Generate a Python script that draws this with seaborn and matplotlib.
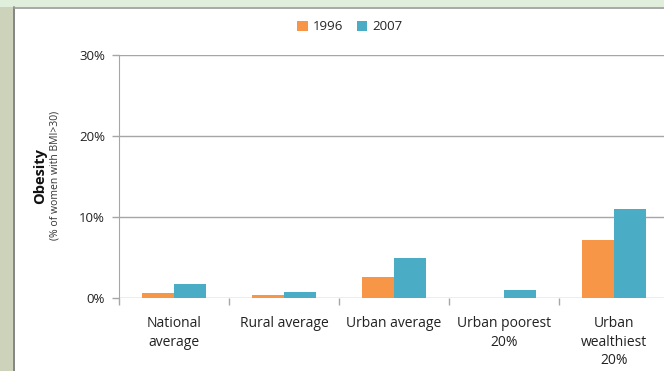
import matplotlib
matplotlib.use("Agg")
import matplotlib.pyplot as plt
from matplotlib.patches import Rectangle
from matplotlib.ticker import FixedLocator, PercentFormatter
import pandas as pd
import seaborn as sns

categories = ["National\naverage", "Rural average", "Urban average",
              "Urban poorest\n20%", "Urban\nwealthiest\n20%"]
years = ["1996", "2007"]
obesity_1996 = [0.6, 0.4, 2.6, 0.0, 7.2]
obesity_2007 = [1.7, 0.8, 4.9, 1.0, 11.0]
colors = ["#f79646", "#4bacc6"]

df = pd.DataFrame({
    "category": categories * 2,
    "year": [years[0]] * len(categories) + [years[1]] * len(categories),
    "value": obesity_1996 + obesity_2007,
})

sns.set_style("white")
plt.rcParams["font.family"] = ["Open Sans", "DejaVu Sans"]

fig = plt.figure(figsize=(6.64, 3.71), dpi=100)

# slide frame: grey-green panel on the left, light green strip on top
fig.patches.append(Rectangle((0, 0), 13 / 664, 1, transform=fig.transFigure,
                             facecolor="#cdd3bb", edgecolor="none", zorder=0))
fig.add_artist(plt.Line2D([13.5 / 664] * 2, [0, 1 - 7 / 371], transform=fig.transFigure,
                          color="#707070", lw=1.2))
fig.patches.append(Rectangle((0, 1 - 7 / 371), 1, 7 / 371, transform=fig.transFigure,
                             facecolor="#e0efdc", edgecolor="none", zorder=0))
fig.add_artist(plt.Line2D([13.5 / 664, 1], [1 - 7.5 / 371] * 2, transform=fig.transFigure,
                          color="#9a9a9a", lw=1.2))

ax = fig.add_axes([119 / 664, 1 - 298 / 371, 550 / 664, 243 / 371])
sns.barplot(data=df, x="category", y="value", hue="year", palette=colors,
            width=0.58, saturation=1, linewidth=0, ax=ax, legend=True)

ax.set_ylim(0, 30)
ax.set_xlim(-0.5, 4.5)
ax.yaxis.set_major_locator(FixedLocator([0, 10, 20, 30]))
ax.yaxis.set_major_formatter(PercentFormatter(decimals=0))
ax.yaxis.grid(True, color="#a6a6a6", lw=1)
ax.set_axisbelow(True)
for side in ["top", "right", "bottom"]:
    ax.spines[side].set_visible(False)
ax.spines["left"].set_color("#a6a6a6")
ax.tick_params(axis="y", left=True, length=5, width=1, color="#a6a6a6",
               labelsize=9.5, pad=5, labelcolor="#222222")
ax.tick_params(axis="x", which="major", length=0, labelsize=10, pad=13,
               labelcolor="#222222")
for lbl in ax.get_xticklabels():
    lbl.set_linespacing(1.33)
ax.set_xticks([i - 0.5 for i in range(len(categories) + 1)], minor=True)
ax.tick_params(axis="x", which="minor", bottom=True, length=5, width=1,
               color="#a6a6a6")
ax.set_xlabel("")
ax.set_ylabel("")

fig.text(40 / 664, 1 - 176 / 371, "Obesity", rotation=90, ha="center", va="center",
         fontsize=10.5, fontweight="bold", color="#111111")
fig.text(55 / 664, 1 - 175 / 371, "(% of women with BMI>30)", rotation=90,
         ha="center", va="center", fontsize=7.5, color="#333333")

leg = ax.legend(loc="center", bbox_to_anchor=(350 / 664, 1 - 27 / 371),
                bbox_transform=fig.transFigure, ncol=2, frameon=False,
                fontsize=9.5, handlelength=0.8, handleheight=0.8,
                handletextpad=0.4, columnspacing=1.0)

fig.savefig("out.png", dpi=100)
